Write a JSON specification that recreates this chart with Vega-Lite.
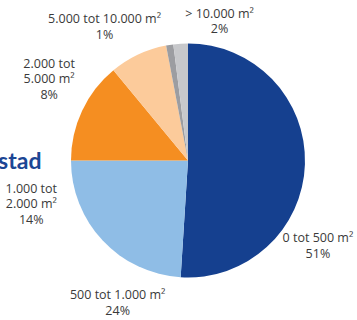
{
  "$schema": "https://vega.github.io/schema/vega-lite/v6.json",
  "width": 338,
  "height": 319,
  "autosize": {"type": "none"},
  "padding": {"left": 19, "top": 1, "right": 0, "bottom": 0},
  "background": "white",
  "title": {"text": "stad", "orient": "left", "angle": 0, "anchor": "middle", "align": "left", "baseline": "middle", "font": "Lato", "fontSize": 23, "fontWeight": "bold", "color": "#1c4694", "offset": 0, "dx": 36, "dy": 1},
  "data": {"values": [
    {"rank": 1, "category": "0 tot 500 m²", "pct": 51, "label": "0 tot 500 m²\n51%"},
    {"rank": 2, "category": "500 tot 1.000 m²", "pct": 24, "label": "500 tot 1.000 m²\n24%"},
    {"rank": 3, "category": "1.000 tot 2.000 m²", "pct": 14, "label": "1.000 tot\n2.000 m²\n14%"},
    {"rank": 4, "category": "2.000 tot 5.000 m²", "pct": 8, "label": "2.000 tot\n5.000 m²\n8%"},
    {"rank": 5, "category": "5.000 tot 10.000 m²", "pct": 1, "label": "5.000 tot 10.000 m²\n1%"},
    {"rank": 6, "category": "> 10.000 m²", "pct": 2, "label": "> 10.000 m²\n2%"}
  ]},
  "encoding": {
    "theta": {"field": "pct", "type": "quantitative", "stack": true},
    "order": {"field": "rank", "type": "quantitative"}
  },
  "layer": [
    {
      "mark": {"type": "arc", "outerRadius": 117},
      "encoding": {
        "color": {"field": "category", "type": "nominal", "legend": null,
          "scale": {"domain": ["0 tot 500 m²", "500 tot 1.000 m²", "1.000 tot 2.000 m²", "2.000 tot 5.000 m²", "5.000 tot 10.000 m²", "> 10.000 m²"],
                    "range": ["#15408f", "#8fbde6", "#f58e21", "#fccb9b", "#9c9da1", "#c7c8cb"]}}
      }
    },
    {
      "mark": {"type": "text", "radius": 150, "font": "Open Sans", "fontSize": 12.5, "color": "#3a3a3a", "lineBreak": "\n", "lineHeight": 15.5, "align": "center", "baseline": "middle",
        "dx": {"expr": "datum.rank == 1 ? -20 : datum.rank == 2 ? 39 : datum.rank == 3 ? -21 : datum.rank == 4 ? -75 : datum.rank == 5 ? -60 : 41"},
        "dy": {"expr": "datum.rank == 1 ? 73 : datum.rank == 2 ? 32 : datum.rank == 3 ? 92 : datum.rank == 4 ? 39 : datum.rank == 5 ? 7 : 3"}},
      "encoding": {
        "detail": {"field": "category", "type": "nominal"},
        "text": {"field": "label", "type": "nominal"}
      }
    }
  ],
  "config": {"view": {"stroke": null}}
}
